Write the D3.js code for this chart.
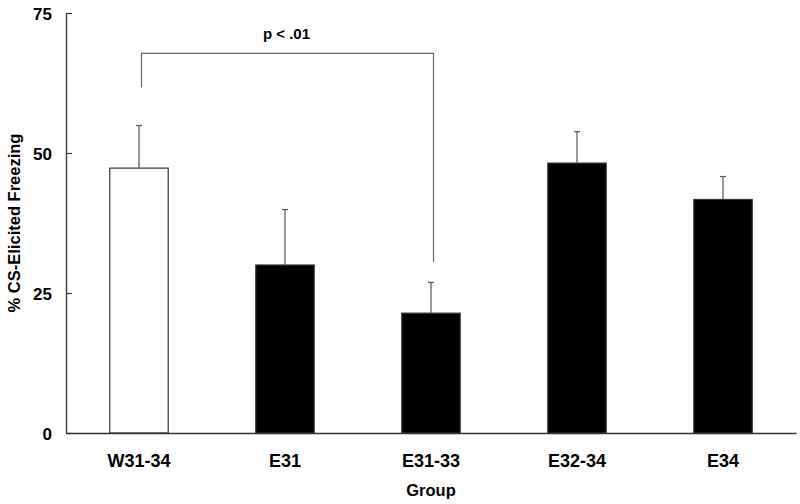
<!DOCTYPE html>
<html>
<head>
<meta charset="utf-8">
<script src="https://cdn.jsdelivr.net/npm/d3@7"></script>
<style>
  body { margin: 0; background: #fff; }
  text { font-family: "Liberation Sans", Arial, sans-serif; font-weight: bold; fill: #000; }
</style>
</head>
<body>
<svg id="chart" width="800" height="504"></svg>
<script>
const groups = ["W31-34", "E31", "E31-33", "E32-34", "E34"];
const means = [47.3, 30.0, 21.4, 48.2, 41.7];
const errors = [7.6, 9.9, 5.5, 5.6, 4.1];
const fills = ["#fff", "#000", "#000", "#000", "#000"];
const yTicks = [0, 25, 50, 75];
const bracket = { from: "W31-34", to: "E31-33", top: 67.8, leftEnd: 61.7, rightEnd: 30.5, label: "p < .01" };

const svg = d3.select("#chart");
const x = d3.scaleBand().domain(groups).range([66, 796]).paddingInner(0.6).paddingOuter(0.3);
const y = d3.scaleLinear().domain([0, 75]).range([433, 13]);
const axisColor = "#333";

// bars
svg.selectAll("rect.bar").data(groups).join("rect")
  .attr("x", d => x(d))
  .attr("y", (d, i) => y(means[i]))
  .attr("width", x.bandwidth())
  .attr("height", (d, i) => y(0) - y(means[i]))
  .attr("fill", (d, i) => fills[i])
  .attr("stroke", "#333")
  .attr("stroke-width", 1.2);

// error bars
const cx = d => x(d) + x.bandwidth() / 2;
svg.selectAll("line.err").data(groups).join("line")
  .attr("x1", cx).attr("x2", cx)
  .attr("y1", (d, i) => y(means[i]))
  .attr("y2", (d, i) => y(means[i] + errors[i]))
  .attr("stroke", "#555").attr("stroke-width", 1.2);
svg.selectAll("line.cap").data(groups).join("line")
  .attr("x1", d => cx(d) - 3).attr("x2", d => cx(d) + 3)
  .attr("y1", (d, i) => y(means[i] + errors[i]))
  .attr("y2", (d, i) => y(means[i] + errors[i]))
  .attr("stroke", "#555").attr("stroke-width", 1.2);

// y axis
const yAxis = d3.axisLeft(y).tickValues(yTicks).tickSizeInner(-6).tickSizeOuter(0).tickPadding(14);
const gy = svg.append("g").attr("transform", "translate(66,0)").call(yAxis);
gy.select(".domain").attr("stroke", axisColor).attr("stroke-width", 1.3);
gy.selectAll(".tick line").attr("stroke", axisColor).attr("stroke-width", 1.2);
gy.selectAll(".tick text").style("font-size", "17px").attr("fill", "#000").attr("dy", "0.36em");

// x axis
const xAxis = d3.axisBottom(x).tickSize(0).tickPadding(21);
const gx = svg.append("g").attr("transform", "translate(0,433)").call(xAxis);
gx.select(".domain").attr("stroke", axisColor).attr("stroke-width", 1.3);
gx.selectAll(".tick text").style("font-size", "18px").attr("fill", "#000");

// axis titles
svg.append("text").attr("x", 431).attr("y", 496).attr("text-anchor", "middle")
  .style("font-size", "16.5px").text("Group");
svg.append("text").attr("transform", "translate(19.5,223) rotate(-90)").attr("text-anchor", "middle")
  .style("font-size", "16.5px").text("% CS-Elicited Freezing");

// significance bracket
const bx1 = cx(bracket.from) + 2.5, bx2 = cx(bracket.to) + 2.5;
svg.append("path")
  .attr("d", `M${bx1},${y(bracket.leftEnd)}V${y(bracket.top)}H${bx2}V${y(bracket.rightEnd)}`)
  .attr("fill", "none").attr("stroke", "#666").attr("stroke-width", 1.2);
svg.append("text").attr("x", (bx1 + bx2) / 2 - 1).attr("y", 38.5).attr("text-anchor", "middle")
  .style("font-size", "15px").text(bracket.label);
</script>
</body>
</html>
